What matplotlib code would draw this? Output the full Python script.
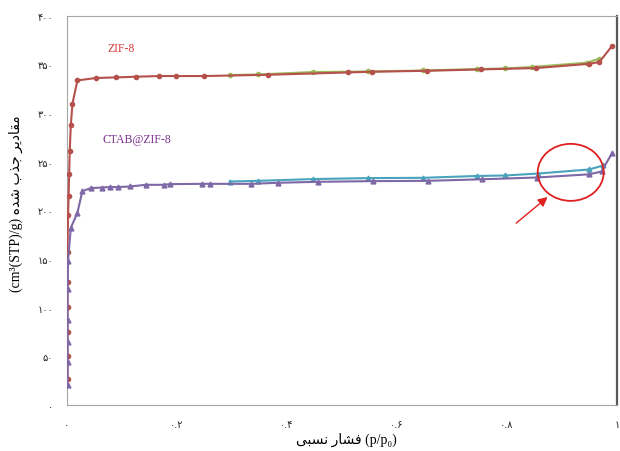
import matplotlib
matplotlib.use("Agg")
import matplotlib.pyplot as plt
from matplotlib.patches import Ellipse

# ZIF-8 adsorption (red) and desorption (green)
zif_ads_x = [0.001, 0.001, 0.001, 0.001, 0.001, 0.001, 0.002, 0.003, 0.004, 0.005, 0.007, 0.010, 0.019,
             0.053, 0.089, 0.125, 0.167, 0.198, 0.250, 0.365, 0.511, 0.554, 0.654, 0.753, 0.853, 0.950,
             0.968, 0.991]
zif_ads_y = [26.7, 50.1, 74.8, 100.8, 126.2, 157.6, 194.7, 215.0, 237.5, 260.5, 287.4, 309.5, 333.5,
             336.0, 336.6, 337.3, 338.0, 338.0, 338.0, 339.3, 341.7, 342.4, 343.4, 344.8, 346.2, 350.6,
             352.4, 368.8]
zif_des_x = [0.968, 0.945, 0.845, 0.796, 0.746, 0.648, 0.548, 0.447, 0.347, 0.296]
zif_des_y = [355.8, 351.7, 347.3, 345.8, 345.2, 343.7, 342.7, 342.1, 339.6, 339.0]

# CTAB@ZIF-8 adsorption (purple) and desorption (teal)
ctab_ads_x = [0.001, 0.001, 0.001, 0.001, 0.001, 0.002, 0.007, 0.019, 0.028, 0.043, 0.063, 0.078, 0.093,
              0.115, 0.143, 0.176, 0.187, 0.246, 0.260, 0.334, 0.384, 0.457, 0.557, 0.656, 0.755, 0.854,
              0.950, 0.972, 0.991]
ctab_ads_y = [20.6, 43.9, 65.1, 87.7, 119.3, 148.4, 182.0, 197.4, 219.7, 222.8, 223.4, 223.9, 223.9,
              224.5, 226.2, 226.2, 226.9, 227.2, 227.2, 227.2, 228.3, 229.3, 230.0, 230.3, 231.9, 233.7,
              237.0, 239.9, 258.6]
ctab_des_x = [0.975, 0.950, 0.857, 0.797, 0.746, 0.647, 0.548, 0.447, 0.348, 0.296]
ctab_des_y = [246.1, 242.0, 237.8, 235.8, 235.3, 233.4, 233.1, 232.1, 230.3, 229.6]

xticks = [0, 0.2, 0.4, 0.6, 0.8, 1.0]
xticklabels = ["۰", "۰.۲", "۰.۴", "۰.۶", "۰.۸", "۱"]
yticks = [0, 50, 100, 150, 200, 250, 300, 350, 400]
yticklabels = ["۰", "۵۰", "۱۰۰", "۱۵۰", "۲۰۰", "۲۵۰", "۳۰۰", "۳۵۰", "۴۰۰"]

# persian labels written in visual order with presentation forms (no shaping in matplotlib)
ylabel_fa = "\uFEE9\uFEAA\uFEB7 \uFE8F\uFEAC\uFE9F \uFEAE\uFEF3\uFEA9\uFE8E\uFED8\uFEE3"
xlabel_fa = "\uFEF0\uFE92\uFEB4\uFEE7 \uFEAD\uFE8E\uFEB8\uFED3"

red = "#B5504C"
green = "#9BBB59"
purple = "#7F68A6"
teal = "#4AA3BC"

fig = plt.figure(figsize=(6.2, 4.52), dpi=100)
ax = fig.add_axes([0.108, 0.102, 0.887, 0.861])

ax.plot(zif_ads_x, zif_ads_y, color=red, lw=1.5, marker="o", ms=3, zorder=3)
ax.plot(zif_des_x, zif_des_y, color=green, lw=1.5, marker="o", ms=3, zorder=2)
ax.plot(ctab_des_x, ctab_des_y, color=teal, lw=1.5, marker="^", ms=3.5, zorder=2)
ax.plot(ctab_ads_x, ctab_ads_y, color=purple, lw=1.5, marker="^", ms=3.5, zorder=3)

ax.set_xlim(0, 1)
ax.set_ylim(0, 400)
ax.set_xticks(xticks)
ax.set_xticklabels(xticklabels)
ax.set_yticks(yticks)
ax.set_yticklabels(yticklabels)
ax.tick_params(length=0, labelsize=7, colors="#222222", pad=10)
for side in ["left", "bottom", "top"]:
    ax.spines[side].set_color("#A6A6A6")
ax.spines["right"].set_color("#595959")
ax.spines["right"].set_linewidth(1.6)

ax.text(0.073, 364, "ZIF-8", color="#D63A3A", fontsize=8.5, family="Liberation Serif")
ax.text(0.065, 270, "CTAB@ZIF-8", color="#7A2E8C", fontsize=8.5, family="Liberation Serif")

# highlight circle and arrow
ax.add_patch(Ellipse((0.916, 239), 0.12, 58.6, fill=False, ec="#E02020", lw=1.3, zorder=5))
ax.annotate("", xy=(0.878, 215.5), xytext=(0.813, 185),
            arrowprops=dict(arrowstyle="-|>", color="#E02020", lw=1.0, mutation_scale=14))

fig.text(0.025, 0.55, "(cm³(STP)/g) " + ylabel_fa, rotation=90, ha="center", va="center",
         fontsize=10, family=["Liberation Serif", "DejaVu Sans"])
fig.text(0.558, 0.027, xlabel_fa + " (p/p₀)", ha="center", va="center",
         fontsize=10, family=["Liberation Serif", "DejaVu Sans"])

fig.savefig("out.png", dpi=100)
